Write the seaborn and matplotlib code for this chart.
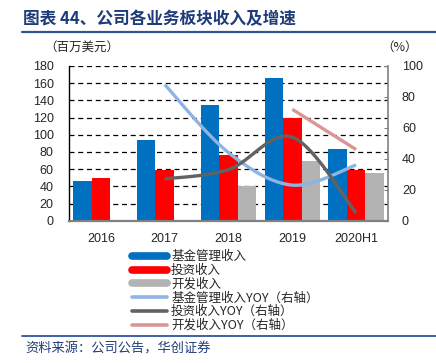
import pandas as pd
import numpy as np
import matplotlib
matplotlib.use("Agg")
import matplotlib.pyplot as plt
import seaborn as sns
from matplotlib.lines import Line2D

# data
years = ["2016", "2017", "2018", "2019", "2020H1"]
fund_rev = [46, 94, 135, 166, 83]
invest_rev = [50, 59, 77, 120, 59]
dev_rev = [np.nan, np.nan, 40, 69, 55]
fund_yoy = [np.nan, 88, 44, 23, 36]
invest_yoy = [np.nan, 27, 33, 54, 5]
dev_yoy = [np.nan, np.nan, np.nan, 72, 46]

bar_names = ["基金管理收入", "投资收入", "开发收入"]
line_names = ["基金管理收入YOY（右轴）", "投资收入YOY（右轴）", "开发收入YOY（右轴）"]
bar_colors = ["#0070C0", "#FF0000", "#B3B3B3"]
line_colors = ["#8EB4E3", "#626262", "#DA9694"]

sns.set_style("white")
plt.rcParams["font.family"] = ["Liberation Sans", "Noto Sans CJK SC"]
CJK = ["Noto Sans CJK SC", "DejaVu Sans"]


def smooth(xs, ys, n=40):
    # excel style smoothed line (catmull-rom bezier), only for drawing
    px, py = [], []
    m = len(xs)
    for i in range(m - 1):
        p0 = (xs[max(i - 1, 0)], ys[max(i - 1, 0)])
        p1 = (xs[i], ys[i])
        p2 = (xs[i + 1], ys[i + 1])
        p3 = (xs[min(i + 2, m - 1)], ys[min(i + 2, m - 1)])
        c1 = (p1[0] + (p2[0] - p0[0]) / 6, p1[1] + (p2[1] - p0[1]) / 6)
        c2 = (p2[0] - (p3[0] - p1[0]) / 6, p2[1] - (p3[1] - p1[1]) / 6)
        t = np.linspace(0, 1, n)
        for k in range(2):
            a = [p1[k], c1[k], c2[k], p2[k]]
            v = ((1 - t) ** 3 * a[0] + 3 * (1 - t) ** 2 * t * a[1]
                 + 3 * (1 - t) * t ** 2 * a[2] + t ** 3 * a[3])
            (px if k == 0 else py).extend(v)
    return px, py


df = pd.DataFrame({"year": years * 3,
                   "series": sum([[s] * len(years) for s in bar_names], []),
                   "value": fund_rev + invest_rev + dev_rev}).dropna()

fig = plt.figure(figsize=(4.36, 3.63), dpi=100)
ax = fig.add_axes([69 / 436, 1 - 220.7 / 363, 319 / 436, 154.7 / 363])

sns.barplot(data=df, x="year", y="value", hue="series", order=years,
            hue_order=bar_names, palette=bar_colors, width=0.87,
            saturation=1, legend=False, linewidth=0, ax=ax)
ax.set_xlim(-0.5, 4.5)
ax.set_ylim(0, 180)
ax.set_yticks(range(0, 181, 20))
ax.set_xlabel("")
ax.set_ylabel("")
ax.yaxis.grid(True, ls=(0, (4, 3)), color="black", lw=0.9)
ax.set_axisbelow(True)
ax.tick_params(axis="y", length=0, pad=11, labelsize=9)
ax.tick_params(axis="x", length=0, pad=9, labelsize=9)
for s in ["top", "right"]:
    ax.spines[s].set_visible(False)
ax.spines["left"].set_color("black")
ax.spines["left"].set_linewidth(1)
ax.spines["bottom"].set_color("#808080")
ax.spines["bottom"].set_linewidth(1.6)

ax2 = ax.twinx()
ax2.set_ylim(0, 100)
ax2.set_yticks(range(0, 101, 20))
ax2.tick_params(axis="y", direction="in", length=3, pad=10, labelsize=9,
                color="#808080")
for s in ["top", "left", "bottom"]:
    ax2.spines[s].set_visible(False)
ax2.spines["right"].set_color("#808080")
ax2.spines["right"].set_linewidth(1.2)

for vals, col in zip([fund_yoy, invest_yoy, dev_yoy], line_colors):
    idx = [i for i, v in enumerate(vals) if not np.isnan(v)]
    sx, sy = smooth(idx, [vals[i] for i in idx])
    sns.lineplot(x=sx, y=sy, sort=False, color=col, lw=2.4, ax=ax2,
                 solid_capstyle="butt")
ax2.set_ylabel("")

# legend
handles = [Line2D([], [], color=c, lw=5.5) for c in bar_colors]
handles += [Line2D([], [], color=c, lw=2.6) for c in line_colors]
fig.legend(handles, bar_names + line_names, loc="upper left",
           bbox_to_anchor=(126 / 436, 1 - 244 / 363), frameon=False,
           prop={"family": CJK, "size": 9}, handlelength=2.8,
           handletextpad=0.3, labelspacing=0.06, borderpad=0)

# titles and notes
fig.text(23 / 436, 1 - 19.5 / 363, "图表 44、公司各业务板块收入及增速", family=CJK,
         fontsize=12, fontweight="bold", color="#1F3C7A", va="center")
fig.add_artist(Line2D([22 / 436, 1], [1 - 32 / 363] * 2, color="#2F5597",
                      lw=1.6, transform=fig.transFigure))
fig.text(44 / 436, 1 - 47 / 363, "（百万美元）", family=CJK, fontsize=9,
         va="center")
fig.text(381 / 436, 1 - 47 / 363, "（%）", family=CJK, fontsize=9,
         va="center")
fig.add_artist(Line2D([22 / 436, 1], [1 - 336 / 363] * 2, color="#2F5597",
                      lw=1.3, transform=fig.transFigure))
fig.text(25 / 436, 1 - 349 / 363, "资料来源：公司公告，华创证券", family=CJK,
         fontsize=9.5, color="#1F3C7A", va="center", style="italic")

fig.savefig("out.png", dpi=100)
